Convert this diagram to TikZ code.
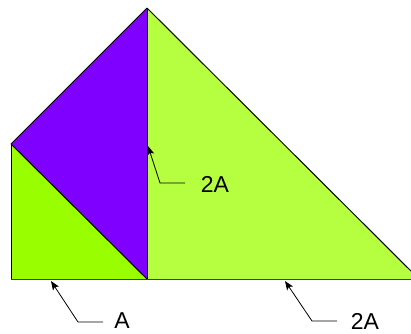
\documentclass[tikz,border=0pt]{standalone}
\usepackage{fontspec}
\setmainfont{Liberation Sans}
\usetikzlibrary{arrows.meta}
\definecolor{limeA}{HTML}{99FF00}
\definecolor{limeB}{HTML}{B5FF40}
\definecolor{violetA}{HTML}{7F00FF}
\begin{document}
\begin{tikzpicture}[x=1pt,y=-1pt,
  edgeline/.style={draw=black,line width=1pt,line join=miter},
  leader/.style={draw=black,line width=0.8pt,-{Stealth[length=9pt,width=7pt,inset=2pt]}},
  lbl/.style={inner sep=0pt,anchor=center,font=\fontsize{23}{23}\selectfont}]
\useasboundingbox (0,0) rectangle (411,333);
\clip (0,0) rectangle (411,333);
\coordinate (bl) at (11,279);
\coordinate (lt) at (11,144);
\coordinate (mb) at (147,279);
\coordinate (ap) at (147,8);
\coordinate (rb) at (419,279);
\fill[limeB] (ap) -- (mb) -- (rb) -- cycle;
\fill[violetA] (lt) -- (ap) -- (mb) -- cycle;
\fill[limeA] (bl) -- (lt) -- (mb) -- cycle;
\draw[edgeline] (ap) -- (rb);
\draw[edgeline] (lt) -- (ap);
\draw[edgeline] (lt) -- (mb);
\draw[edgeline] (bl) -- (lt);
\draw[edgeline] (ap) -- (mb);
\draw[edgeline,draw=black!75] (bl) -- (rb);
% labels
\node[lbl] (l1) at (215,184) {2A};
\node[lbl] (l2) at (122,321) {A};
\node[lbl] (l3) at (365,321) {2A};
\coordinate (e1) at (185,183);
\coordinate (b1) at (160,183);
\coordinate (t1) at (148,146);
\coordinate (e2) at (103,322);
\coordinate (b2) at (78,322);
\coordinate (t2) at (51,281);
\coordinate (e3) at (337,321);
\coordinate (b3) at (312,321);
\coordinate (t3) at (285,281);
\draw[leader] (e1) -- (b1) -- (t1);
\draw[leader] (e2) -- (b2) -- (t2);
\draw[leader] (e3) -- (b3) -- (t3);
\end{tikzpicture}
\end{document}
